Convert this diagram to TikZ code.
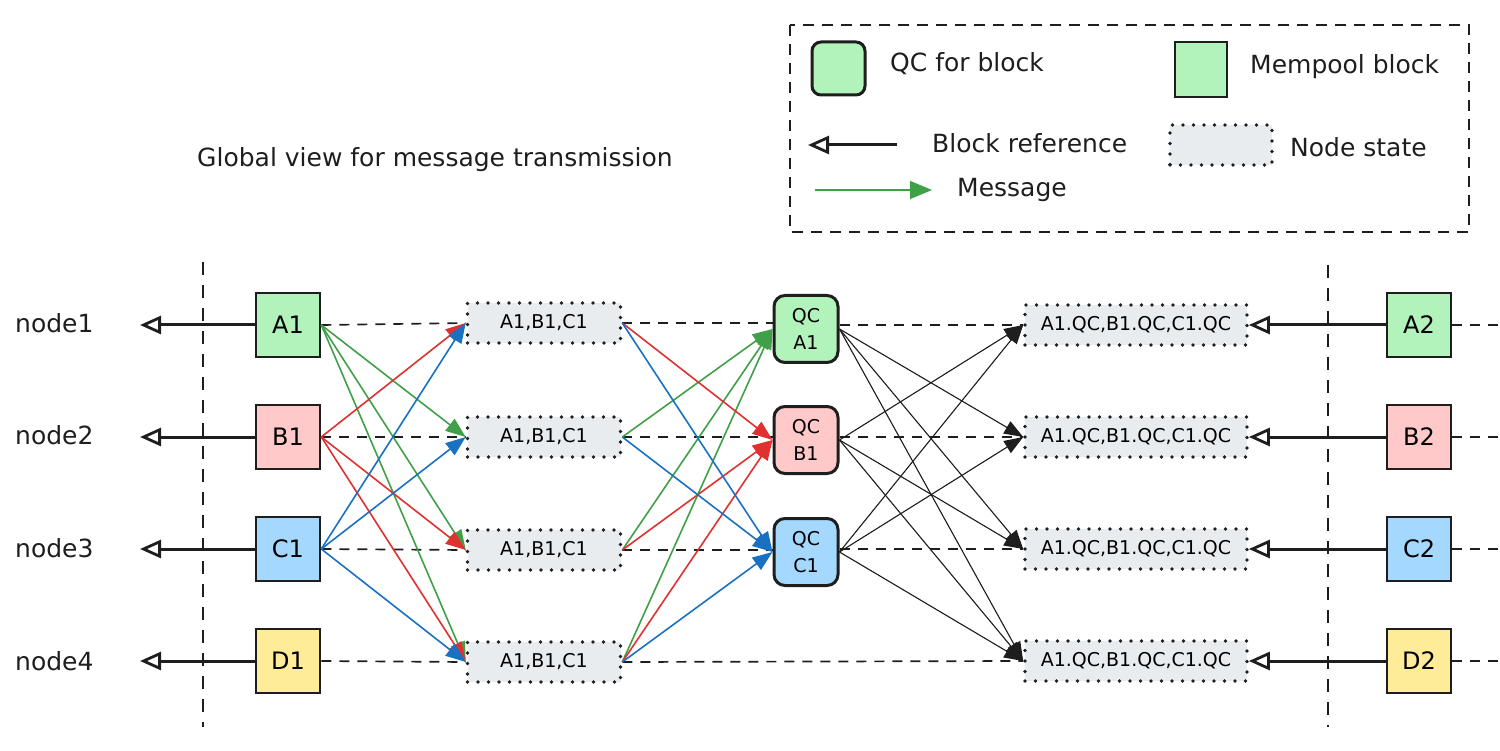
\documentclass[tikz,border=0pt]{standalone}
\usepackage{fontspec}
\setmainfont{DejaVu Sans}
\usetikzlibrary{arrows.meta}
\definecolor{ink}{HTML}{1E1E1E}
\definecolor{fgreen}{HTML}{B2F2BB}
\definecolor{fred}{HTML}{FFC9C9}
\definecolor{fblue}{HTML}{A5D8FF}
\definecolor{fyellow}{HTML}{FFEC99}
\definecolor{fgray}{HTML}{E9ECEF}
\definecolor{sgreen}{HTML}{40A048}
\definecolor{sred}{HTML}{E03131}
\definecolor{sblue}{HTML}{1971C2}
\begin{document}
\begin{tikzpicture}[x=1pt,y=-1pt,
  blockbox/.style={draw=ink, line width=2.6pt, minimum width=64pt, minimum height=64pt, inner sep=0pt, font=\fontsize{24}{28}\selectfont},
  qcbox/.style={draw=ink, line width=3pt, rounded corners=11pt, minimum width=64pt, minimum height=67pt, inner sep=0pt, align=center, font=\fontsize{19}{27}\selectfont},
  statebox/.style={fill=fgray, draw=ink, line width=3.6pt, dash pattern=on 0pt off 10.5pt, line cap=round, minimum height=40pt, inner sep=0pt, font=\fontsize{19}{22}\selectfont},
  lbl/.style={anchor=west, inner sep=0pt, font=\fontsize{25}{30}\selectfont, text=ink},
  rowline/.style={draw=ink, line width=1.7pt, dash pattern=on 10pt off 8pt},
  vline/.style={draw=ink, line width=1.8pt, dash pattern=on 13pt off 10pt},
  blockref/.style={draw=ink, line width=3pt, -{Triangle[open, length=21pt, width=18pt, line width=2.8pt]}},
  msg/.style={line width=1.6pt, -{Triangle[length=20pt, width=15pt]}},
  qcmsg/.style={draw=ink, line width=1.1pt, -{Triangle[length=19pt, width=14pt]}}
]
\useasboundingbox (0,0) rectangle (1500,751);

% ---------- legend ----------
\draw[draw=ink, line width=1.8pt, dash pattern=on 11pt off 8pt] (790,25) rectangle (1469,232);
\node[qcbox, fill=fgreen, minimum width=53pt, minimum height=53pt, rounded corners=9pt] (legqc) at (838.5,68.5) {};
\node[lbl] (legqct) at (890,64) {QC for block};
\node[blockbox, fill=fgreen, minimum width=52pt, minimum height=55pt] (legmp) at (1201,69.5) {};
\node[lbl] (legmpt) at (1250,67) {Mempool block};
\coordinate (lbrA) at (897,145);
\coordinate (lbrB) at (808,145);
\draw[blockref] (lbrA) -- (lbrB);
\node[lbl] (legbrt) at (932,143) {Block reference};
\node[statebox, minimum width=102pt] (legns) at (1221,145) {};
\node[lbl] (legnst) at (1290,147) {Node state};
\coordinate (lmsA) at (815,190);
\coordinate (lmsB) at (932,190);
\draw[line width=1.4pt, draw=sgreen, fill=sgreen, -{Triangle[length=22pt, width=18pt]}] (lmsA) -- (lmsB);
\node[lbl] (legmst) at (957,190) {Message};

% ---------- title ----------
\node[lbl] (title) at (197,160) {Global view for message transmission};

% ---------- vertical dashed lines ----------
\coordinate (vl1) at (203,262);
\coordinate (vl2) at (203,727);
\coordinate (vr1) at (1328,265);
\coordinate (vr2) at (1328,727);
\draw[vline] (vl1) -- (vl2);
\draw[vline] (vr1) -- (vr2);

% ---------- row labels ----------
\node[lbl] (n1) at (15,323) {node1};
\node[lbl] (n2) at (15,435) {node2};
\node[lbl] (n3) at (15,548) {node3};
\node[lbl] (n4) at (15,661) {node4};

% ---------- blocks ----------
\node[blockbox, fill=fgreen] (A1) at (288,325) {A1};
\node[blockbox, fill=fred] (B1) at (288,437) {B1};
\node[blockbox, fill=fblue] (C1) at (288,549) {C1};
\node[blockbox, fill=fyellow] (D1) at (288,661) {D1};

\node[blockbox, fill=fgreen] (A2) at (1419,325) {A2};
\node[blockbox, fill=fred] (B2) at (1419,437) {B2};
\node[blockbox, fill=fblue] (C2) at (1419,549) {C2};
\node[blockbox, fill=fyellow] (D2) at (1419,661) {D2};

% ---------- states ----------
\node[statebox, minimum width=153pt] (s1) at (544,323) {A1,B1,C1};
\node[statebox, minimum width=153pt] (s2) at (544,437) {A1,B1,C1};
\node[statebox, minimum width=153pt] (s3) at (544,550) {A1,B1,C1};
\node[statebox, minimum width=153pt] (s4) at (544,662) {A1,B1,C1};

\node[statebox, minimum width=222pt] (t1) at (1136,325) {A1.QC,B1.QC,C1.QC};
\node[statebox, minimum width=222pt] (t2) at (1136,437) {A1.QC,B1.QC,C1.QC};
\node[statebox, minimum width=222pt] (t3) at (1136,549) {A1.QC,B1.QC,C1.QC};
\node[statebox, minimum width=222pt] (t4) at (1136,661) {A1.QC,B1.QC,C1.QC};

% ---------- QC boxes ----------
\node[qcbox, fill=fgreen] (qa) at (806,329) {QC\\A1};
\node[qcbox, fill=fred] (qb) at (806,440) {QC\\B1};
\node[qcbox, fill=fblue] (qc) at (806,552) {QC\\C1};

% ---------- row dashed lines ----------
\coordinate (e1) at (1500,325);
\coordinate (e2) at (1500,437);
\coordinate (e3) at (1500,549);
\coordinate (e4) at (1500,661);
\draw[rowline] (A1.east) -- (s1.west);
\draw[rowline] (B1.east) -- (s2.west);
\draw[rowline] (C1.east) -- (s3.west);
\draw[rowline] (D1.east) -- (s4.west);
\draw[rowline] (s1.east) -- (s1.east -| qa.west);
\draw[rowline] (s2.east) -- (s2.east -| qb.west);
\draw[rowline] (s3.east) -- (s3.east -| qc.west);
\draw[rowline] (s4.east) -- (t4.west);
\draw[rowline] (t1.west -| qa.east) -- (t1.west);
\draw[rowline] (t2.west -| qb.east) -- (t2.west);
\draw[rowline] (t3.west -| qc.east) -- (t3.west);
\draw[rowline] (A2.east) -- (e1);
\draw[rowline] (B2.east) -- (e2);
\draw[rowline] (C2.east) -- (e3);
\draw[rowline] (D2.east) -- (e4);

% ---------- block references ----------
\coordinate (r1) at (140,325);
\coordinate (r2) at (140,437);
\coordinate (r3) at (140,549);
\coordinate (r4) at (140,661);
\draw[blockref] (A1.west) -- (r1);
\draw[blockref] (B1.west) -- (r2);
\draw[blockref] (C1.west) -- (r3);
\draw[blockref] (D1.west) -- (r4);
\draw[blockref] (A2.west) -- (t1.east);
\draw[blockref] (B2.west) -- (t2.east);
\draw[blockref] (C2.west) -- (t3.east);
\draw[blockref] (D2.west) -- (t4.east);

% ---------- messages: blocks -> states ----------
\draw[msg, draw=sgreen, fill=sgreen] (A1.east) -- (s2.west);
\draw[msg, draw=sgreen, fill=sgreen] (A1.east) -- (s3.west);
\draw[msg, draw=sgreen, fill=sgreen] (A1.east) -- (s4.west);
\draw[msg, draw=sred, fill=sred] (B1.east) -- (s1.west);
\draw[msg, draw=sred, fill=sred] (B1.east) -- (s3.west);
\draw[msg, draw=sred, fill=sred] (B1.east) -- (s4.west);
\draw[msg, draw=sblue, fill=sblue] (C1.east) -- (s1.west);
\draw[msg, draw=sblue, fill=sblue] (C1.east) -- (s2.west);
\draw[msg, draw=sblue, fill=sblue] (C1.east) -- (s4.west);

% ---------- messages: states -> QC ----------
\draw[msg, draw=sgreen, fill=sgreen] (s2.east) -- (qa.west);
\draw[msg, draw=sgreen, fill=sgreen] (s3.east) -- (qa.west);
\draw[msg, draw=sgreen, fill=sgreen] (s4.east) -- (qa.west);
\draw[msg, draw=sred, fill=sred] (s1.east) -- (qb.west);
\draw[msg, draw=sred, fill=sred] (s3.east) -- (qb.west);
\draw[msg, draw=sred, fill=sred] (s4.east) -- (qb.west);
\draw[msg, draw=sblue, fill=sblue] (s1.east) -- (qc.west);
\draw[msg, draw=sblue, fill=sblue] (s2.east) -- (qc.west);
\draw[msg, draw=sblue, fill=sblue] (s4.east) -- (qc.west);

% ---------- messages: QC -> states ----------
\draw[qcmsg, fill=ink] (qa.east) -- (t2.west);
\draw[qcmsg, fill=ink] (qa.east) -- (t3.west);
\draw[qcmsg, fill=ink] (qa.east) -- (t4.west);
\draw[qcmsg, fill=ink] (qb.east) -- (t1.west);
\draw[qcmsg, fill=ink] (qb.east) -- (t3.west);
\draw[qcmsg, fill=ink] (qb.east) -- (t4.west);
\draw[qcmsg, fill=ink] (qc.east) -- (t1.west);
\draw[qcmsg, fill=ink] (qc.east) -- (t2.west);
\draw[qcmsg, fill=ink] (qc.east) -- (t4.west);
\end{tikzpicture}
\end{document}
